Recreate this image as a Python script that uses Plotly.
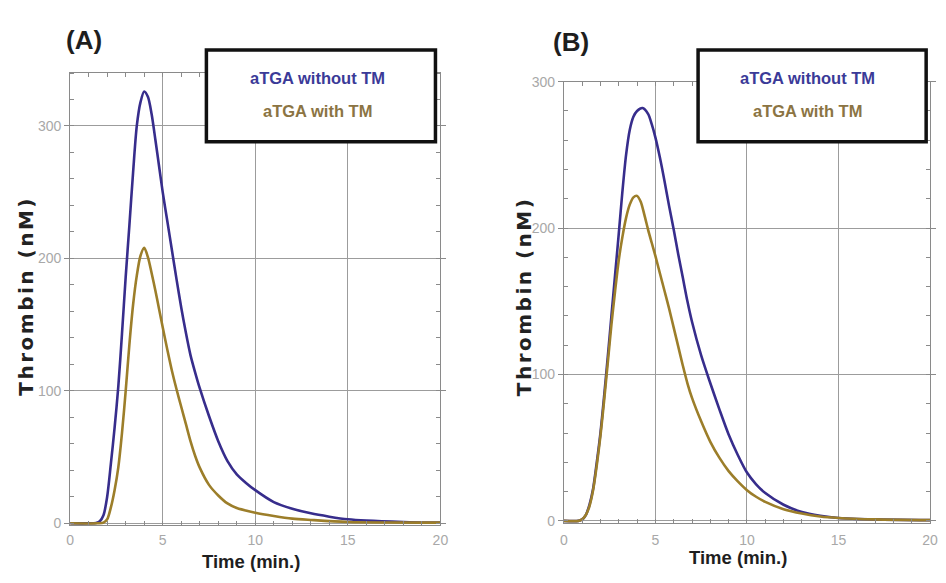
import plotly.graph_objects as go

# ---------------- data ----------------
# Panel A
time_a_without = [0, 1.0, 1.4, 1.6, 1.8, 2.0, 2.2, 2.4, 2.6, 2.8, 3.0, 3.2, 3.4, 3.6, 3.8, 4.0,
                  4.2, 4.4, 4.6, 4.8, 5.0, 5.25, 5.5, 5.75, 6.0, 6.25, 6.5, 6.75, 7.0, 7.5, 8.0,
                  8.5, 9.0, 9.5, 10.0, 11.0, 12.0, 13.0, 14.0, 15.0, 16.0, 18.0, 20.0]
thrombin_a_without = [0, 0, 0.3, 1.5, 6, 20, 45, 72, 103, 143, 186, 225, 265, 300, 318, 326,
                      322, 309, 290, 270, 250, 228, 206, 184, 163, 144, 127, 114, 102, 81, 62,
                      47, 37, 30.5, 25, 16, 11, 7.5, 5, 3, 2, 1, 0.5]

time_a_with = [0, 1.5, 1.8, 2.0, 2.2, 2.4, 2.6, 2.8, 3.0, 3.2, 3.4, 3.6, 3.8, 4.0, 4.2, 4.4,
               4.6, 4.8, 5.0, 5.25, 5.5, 5.75, 6.0, 6.25, 6.5, 6.75, 7.0, 7.5, 8.0, 8.5, 9.0,
               10.0, 11.0, 12.0, 13.0, 15.0, 20.0]
thrombin_a_with = [0, 0, 0.5, 3, 12, 25, 42, 68, 100, 135, 165, 187, 202, 208, 201, 189,
                   176, 162, 148, 131, 115, 101, 88, 75, 62, 51, 42, 29, 21, 15, 11.5,
                   8, 5.5, 3.5, 2.5, 1, 0.5]

# Panel B
time_b_without = [0, 0.8, 1.0, 1.2, 1.4, 1.6, 1.8, 2.0, 2.2, 2.4, 2.6, 2.8, 3.0, 3.2, 3.4, 3.6,
                  3.8, 4.0, 4.3, 4.6, 4.8, 5.0, 5.25, 5.5, 5.75, 6.0, 6.25, 6.5, 6.75, 7.0, 7.5,
                  8.0, 8.5, 9.0, 9.5, 10.0, 10.5, 11.0, 12.0, 13.0, 14.0, 15.0, 17.0, 20.0]
thrombin_b_without = [0, 0, 1, 4, 11, 22, 40, 60, 85, 112, 140, 168, 196, 225, 250, 267,
                      276, 280, 282, 278, 271, 262, 248, 232, 215, 199, 182, 166, 150, 136, 113,
                      94, 76, 59, 45, 33, 25, 19, 11, 6, 3.5, 2, 1, 0.5]

time_b_with = [0, 0.8, 1.0, 1.2, 1.4, 1.6, 1.8, 2.0, 2.2, 2.4, 2.6, 2.8, 3.0, 3.2, 3.4, 3.6,
               3.8, 4.0, 4.2, 4.4, 4.6, 4.8, 5.0, 5.25, 5.5, 5.75, 6.0, 6.25, 6.5, 6.75, 7.0,
               7.5, 8.0, 8.5, 9.0, 9.5, 10.0, 10.5, 11.0, 12.0, 13.0, 14.0, 15.0, 17.0, 20.0]
thrombin_b_with = [0, 0, 1, 4, 10, 21, 38, 58, 82, 108, 134, 157, 178, 194, 207, 216,
                   221, 222, 218, 209, 199, 190, 181, 169, 157, 145, 132, 119, 106, 94, 84,
                   68, 54, 43, 34, 27, 21, 16.5, 13, 8, 5, 3, 2, 1, 0.5]

x_tick_vals = [0, 5, 10, 15, 20]
y_tick_vals_a = [0, 100, 200, 300]
y_tick_vals_b = [0, 100, 200, 300]

series_names = ["aTGA without TM", "aTGA with TM"]
panel_labels = ["(A)", "(B)"]

# ---------------- styles ----------------
BLUE = "#372d8c"
GOLD = "#9c7e2a"
LEGEND_BLUE = "#3b3a98"
LEGEND_GOLD = "#8b7443"
GRID = "#9c9c9c"
FRAME = "#8a8a8a"
TICKFONT = dict(family="Liberation Sans", size=14, color="#a8a8a8")
W, H = 946, 583


def px(x):
    return x / W


def py(y):
    return 1 - y / H


fig = go.Figure()

line_kw = dict(shape="spline", smoothing=0.8, width=2.6)
fig.add_trace(go.Scatter(x=time_a_without, y=thrombin_a_without, mode="lines", name=series_names[0],
                         line=dict(color=BLUE, **line_kw), xaxis="x", yaxis="y", showlegend=False))
fig.add_trace(go.Scatter(x=time_a_with, y=thrombin_a_with, mode="lines", name=series_names[1],
                         line=dict(color=GOLD, **line_kw), xaxis="x", yaxis="y", showlegend=False))
fig.add_trace(go.Scatter(x=time_b_without, y=thrombin_b_without, mode="lines", name=series_names[0],
                         line=dict(color=BLUE, **line_kw), xaxis="x2", yaxis="y2", showlegend=False))
fig.add_trace(go.Scatter(x=time_b_with, y=thrombin_b_with, mode="lines", name=series_names[1],
                         line=dict(color=GOLD, **line_kw), xaxis="x2", yaxis="y2", showlegend=False))


def xaxis_cfg(domain, anchor, standoff):
    return dict(domain=domain, anchor=anchor, range=[0, 20], tickvals=x_tick_vals,
                showgrid=True, gridcolor=GRID, gridwidth=1, zeroline=False,
                showline=True, linecolor=FRAME, linewidth=1, mirror="ticks",
                ticks="inside", ticklen=4, tickcolor=FRAME, tickfont=TICKFONT,
                ticklabelstandoff=standoff,
                minor=dict(dtick=1, ticks="inside", ticklen=4, tickcolor=FRAME, showgrid=False),
                fixedrange=True)


def yaxis_cfg(domain, anchor, rng, tickvals):
    return dict(domain=domain, anchor=anchor, range=rng, tickvals=tickvals,
                showgrid=True, gridcolor=GRID, gridwidth=1, zeroline=False,
                showline=True, linecolor=FRAME, linewidth=1, mirror="ticks",
                ticks="outside", ticklen=5, tickcolor=FRAME, tickfont=TICKFONT,
                minor=dict(dtick=20, ticks="inside", ticklen=4, tickcolor=FRAME, showgrid=False),
                fixedrange=True)


fig.update_layout(
    width=W, height=H,
    margin=dict(l=0, r=0, t=0, b=0),
    paper_bgcolor="white", plot_bgcolor="white",
    xaxis=xaxis_cfg([px(67), px(442)], "y", 2),
    yaxis=yaxis_cfg([py(530), py(66.6)], "x", [-1.5, 340], y_tick_vals_a),
    xaxis2=xaxis_cfg([px(567), px(938)], "y2", 4),
    yaxis2=yaxis_cfg([py(527.75), py(75.5)], "x2", [-1.5, 300], y_tick_vals_b),
)

# axis titles & panel labels as annotations
ytitle_font = dict(family="DejaVu Sans", size=20, color="#222222", weight="bold")
xtitle_font = dict(family="Liberation Sans", size=18.5, color="#1e1e1e", weight="bold")
panel_font = dict(family="Liberation Sans", size=26, color="#1e1e1e", weight="bold")
legend_font = dict(family="Liberation Sans", size=16.5, weight="bold")

annotations = []
for xc in (22, 527):
    annotations.append(dict(text='<span style="letter-spacing:2.5px">Thrombin (nM)</span>',
                            x=px(xc), y=py(295), xref="paper", yref="paper",
                            showarrow=False, textangle=-90, font=ytitle_font,
                            xanchor="center", yanchor="middle"))
for xc, yc in ((250, 567), (743, 563)):
    annotations.append(dict(text="Time (min.)", x=px(xc), y=py(yc), xref="paper", yref="paper",
                            showarrow=False, font=xtitle_font, xanchor="center", yanchor="middle"))
for lbl, (xc, yc) in zip(panel_labels, ((81, 33), (574, 35))):
    annotations.append(dict(text=lbl, x=px(xc), y=py(yc), xref="paper", yref="paper",
                            showarrow=False, font=panel_font, xanchor="center", yanchor="middle"))

shapes = []
for (x0, x1), xc in (((205, 437), 318), ((703, 934), 814)):
    shapes.append(dict(type="rect", xref="paper", yref="paper", x0=px(x0), x1=px(x1),
                       y0=py(137), y1=py(43), line=dict(color="#111111", width=3.5),
                       fillcolor="white", layer="above"))
    annotations.append(dict(text=series_names[0], x=px(xc), y=py(72), xref="paper", yref="paper",
                            showarrow=False, font=dict(color=LEGEND_BLUE, **legend_font),
                            xanchor="center", yanchor="middle"))
    annotations.append(dict(text=series_names[1], x=px(xc), y=py(106), xref="paper", yref="paper",
                            showarrow=False, font=dict(color=LEGEND_GOLD, **legend_font),
                            xanchor="center", yanchor="middle"))

fig.update_layout(annotations=annotations, shapes=shapes)

# remove the default page margin so the 946x583 figure fills the window exactly
fig.write_html("out.html", config={"displayModeBar": False},
               post_script="document.body.style.margin='0';document.body.style.overflow='hidden';")
